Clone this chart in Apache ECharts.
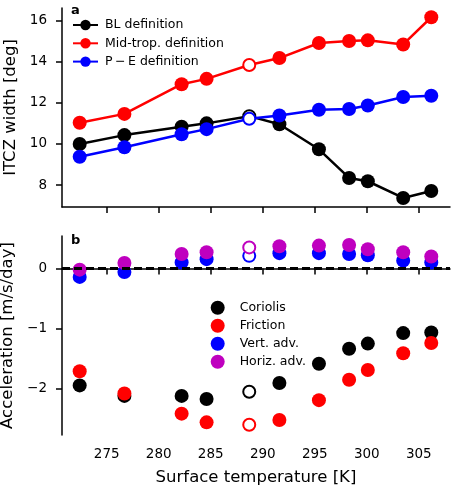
<!DOCTYPE html>
<html>
<head>
<meta charset="utf-8">
<script src="https://cdn.jsdelivr.net/npm/echarts@6/dist/echarts.min.js"></script>
<style>
html, body { margin: 0; padding: 0; background: #fff; }
#chart { width: 452px; height: 488px; }
</style>
</head>
<body>
<div id="chart"></div>
<script>
// surface temperature of each run [K]
var temps = [272.4, 276.7, 282.2, 284.6, 288.7, 291.6, 295.4, 298.3, 300.1, 303.5, 306.2];
var openIndex = 4; // reference run, drawn with open markers

// panel a: ITCZ width [deg]
var blWidth = [10.0, 10.43, 10.84, 11.0, 11.35, 10.96, 9.74, 8.35, 8.19, 7.38, 7.72];
var midWidth = [11.03, 11.46, 12.9, 13.16, 13.83, 14.17, 14.9, 15.0, 15.03, 14.83, 16.15];
var peWidth = [9.38, 9.84, 10.47, 10.72, 11.22, 11.38, 11.66, 11.7, 11.87, 12.28, 12.34];

// panel b: acceleration [m/s/day]
var coriolis = [-1.945, -2.12, -2.12, -2.17, -2.05, -1.905, -1.585, -1.335, -1.25, -1.075, -1.065];
var friction = [-1.71, -2.08, -2.415, -2.56, -2.6, -2.52, -2.19, -1.85, -1.69, -1.41, -1.24];
var vertAdv = [-0.14, -0.06, 0.1, 0.155, 0.21, 0.255, 0.255, 0.24, 0.22, 0.13, 0.1];
var horizAdv = [-0.02, 0.09, 0.24, 0.27, 0.35, 0.37, 0.38, 0.39, 0.32, 0.27, 0.2];

var xTicks = [275, 280, 285, 290, 295, 300, 305];
var widthTicks = [8, 10, 12, 14, 16];
var accelTicks = [-2, -1, 0];

var FONT = 'DejaVu Sans';
var PURPLE = '#bf00bf';

function fmt(v) {
    return v < 0 ? '\u2212' + Math.abs(v) : String(v);
}

// pair temps with values, open marker for the reference run
function points(vals, color, openSize) {
    var out = [];
    for (var i = 0; i < vals.length; i++) {
        if (i === openIndex) {
            out.push({
                value: [temps[i], vals[i]],
                symbolSize: openSize,
                itemStyle: { color: '#fff', borderColor: color, borderWidth: 2 }
            });
        } else {
            out.push([temps[i], vals[i]]);
        }
    }
    return out;
}

function xAxis(idx, showLabels) {
    return {
        type: 'value', gridIndex: idx, min: 270.7, max: 308,
        axisLine: { lineStyle: { color: '#000', width: 1.5 } },
        axisTick: { show: true, length: 6, customValues: xTicks, lineStyle: { color: '#000', width: 1.5 } },
        axisLabel: { show: showLabels, customValues: xTicks, color: '#000', fontFamily: FONT, fontSize: 13.5, margin: 12 },
        splitLine: { show: false },
        name: showLabels ? 'Surface temperature [K]' : '',
        nameLocation: 'middle', nameGap: 34,
        nameTextStyle: { color: '#000', fontFamily: FONT, fontSize: 16.5 }
    };
}

function yAxis(idx, min, max, ticks, name) {
    return {
        type: 'value', gridIndex: idx, min: min, max: max,
        axisLine: { show: true, lineStyle: { color: '#000', width: 1.5 } },
        axisTick: { show: true, length: 6, customValues: ticks, lineStyle: { color: '#000', width: 1.5 } },
        axisLabel: { customValues: ticks, formatter: fmt, color: '#000', fontFamily: FONT, fontSize: 13.5, margin: 15 },
        splitLine: { show: false },
        name: name, nameLocation: 'middle', nameGap: 41,
        nameTextStyle: { color: '#000', fontFamily: FONT, fontSize: 16.5 }
    };
}

function lineSeries(name, vals, color) {
    return {
        name: name, type: 'line', xAxisIndex: 0, yAxisIndex: 0,
        data: points(vals, color, 12),
        symbol: 'circle', symbolSize: 14,
        lineStyle: { color: color, width: 2.5 },
        itemStyle: { color: color },
        emphasis: { disabled: true }
    };
}

function scatterSeries(name, vals, color) {
    return {
        name: name, type: 'scatter', xAxisIndex: 1, yAxisIndex: 1,
        data: points(vals, color, 12),
        symbol: 'circle', symbolSize: 14,
        itemStyle: { color: color, opacity: 1 },
        emphasis: { disabled: true }
    };
}

var myChart = echarts.init(document.getElementById('chart'));

var corSeries = scatterSeries('Coriolis', coriolis, '#000000');
// dashed zero line in panel b
corSeries.markLine = {
    silent: true, symbol: 'none', animation: false,
    label: { show: false },
    emphasis: { disabled: true },
    lineStyle: { color: '#000', width: 3, type: [8, 4], opacity: 1 },
    data: [{ yAxis: 0 }]
};

var option = {
    animation: false,
    backgroundColor: '#fff',
    textStyle: { fontFamily: FONT },
    title: [
        { text: 'a', left: 71, top: 4, padding: 0, textStyle: { fontFamily: FONT, fontSize: 13, fontWeight: 'bold', color: '#000' } },
        { text: 'b', left: 71, top: 234, padding: 0, textStyle: { fontFamily: FONT, fontSize: 13, fontWeight: 'bold', color: '#000' } }
    ],
    grid: [
        { left: 62, right: 2, top: 8, height: 199, outerBoundsMode: 'none' },
        { left: 62, right: 2, top: 236, height: 199, outerBoundsMode: 'none' }
    ],
    xAxis: [xAxis(0, false), xAxis(1, true)],
    yAxis: [
        yAxis(0, 6.94, 16.6, widthTicks, 'ITCZ width [deg]'),
        yAxis(1, -2.77, 0.54, accelTicks, 'Acceleration [m/s/day]')
    ],
    legend: [
        {
            data: ['BL definition', 'Mid-trop. definition', 'P\u2009\u2212\u2009E definition'],
            orient: 'vertical', left: 72, top: 18.5, padding: 0,
            itemWidth: 25, itemHeight: 13, itemGap: 5.3,
            selectedMode: false,
            textStyle: { color: '#000', fontFamily: FONT, fontSize: 12.5, lineHeight: 13, padding: [0, 0, 0, 2] }
        },
        {
            data: ['Coriolis', 'Friction', 'Vert. adv.', 'Horiz. adv.'],
            orient: 'vertical', left: 210.7, top: 300.7, padding: 0,
            itemWidth: 14, itemHeight: 14, itemGap: 4,
            selectedMode: false,
            textStyle: { color: '#000', fontFamily: FONT, fontSize: 12.5, lineHeight: 14, padding: [0, 0, 0, 10] }
        }
    ],
    series: [
        lineSeries('BL definition', blWidth, '#000000'),
        lineSeries('Mid-trop. definition', midWidth, '#ff0000'),
        lineSeries('P\u2009\u2212\u2009E definition', peWidth, '#0000ff'),
        corSeries,
        scatterSeries('Friction', friction, '#ff0000'),
        scatterSeries('Vert. adv.', vertAdv, '#0000ff'),
        scatterSeries('Horiz. adv.', horizAdv, PURPLE)
    ]
};

myChart.setOption(option);
</script>
</body>
</html>
